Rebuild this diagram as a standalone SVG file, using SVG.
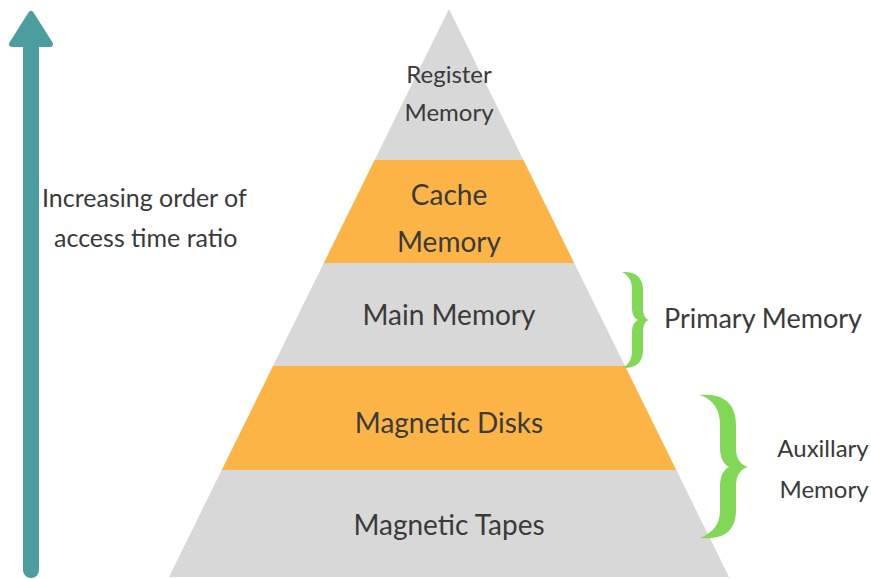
<svg xmlns="http://www.w3.org/2000/svg" width="871" height="579" viewBox="0 0 871 579">
<style>
text{font-family:"Lato","Liberation Sans",sans-serif;fill:#3a3a3a;text-anchor:middle}
.gray{fill:#d8d8d8}
.orange{fill:#fdb447}
.brace{fill:#80d856}
.lbl{font-size:28px}
.sm{font-size:24px}
.side{font-size:25px;text-anchor:start}
.aux{font-size:24px}
</style>
<rect width="871" height="579" fill="#ffffff"/>
<g id="arrow">
<rect x="23" y="40" width="16" height="538" rx="8" fill="#4b9d9e"/>
<polygon points="31,14 12,44 50,44" fill="#4b9d9e" stroke="#4b9d9e" stroke-width="6" stroke-linejoin="round"/>
<text class="side" x="42" y="207">Increasing order of</text>
<text class="side" x="54" y="247">access time ratio</text>
</g>
<g id="register">
<polygon class="gray" points="449,9 523.4,160 374.6,160"/>
<text class="sm" x="449" y="83">Register</text>
<text class="sm" x="449" y="121">Memory</text>
</g>
<g id="cache">
<polygon class="orange" points="374.6,160 523.4,160 574.2,263 323.8,263"/>
<text class="lbl" x="449" y="205">Cache</text>
<text class="lbl" x="449" y="252">Memory</text>
</g>
<g id="main">
<polygon class="gray" points="323.8,263 574.2,263 625,366 273,366"/>
<text class="lbl" x="449" y="325">Main Memory</text>
</g>
<g id="disks">
<polygon class="orange" points="273,366 625,366 676.3,470 221.7,470"/>
<text class="lbl" x="449" y="433">Magnetic Disks</text>
</g>
<g id="tapes">
<polygon class="gray" points="221.7,470 676.3,470 729,577 169,577"/>
<text class="lbl" x="449" y="535">Magnetic Tapes</text>
</g>
<g id="primary">
<path class="brace" d="M622,272 C636,271 643,278 643,290 L643,308 C643,315 645,319 649,320 C645,321 643,325 643,332 L643,350 C643,362 636,369 622,368 C630,364 632,358 632,350 L632,332 C632,326 634,322 638,320 C634,318 632,314 632,308 L632,290 C632,282 630,276 622,272 Z"/>
<text class="lbl" x="763" y="328" style="font-size:27px">Primary Memory</text>
</g>
<g id="auxillary">
<path class="brace" d="M700,395 C725,393 736,405 736,425 L736,448 C736,458 740,465 748,467 C740,469 736,476 736,486 L736,510 C736,530 725,540 700,538 C714,532 720,524 720,510 L720,486 C720,477 723,470 729,467 C723,464 720,457 720,448 L720,425 C720,410 714,400 700,395 Z"/>
<text class="aux" x="823" y="457">Auxillary</text>
<text class="aux" x="824" y="498">Memory</text>
</g>
</svg>
